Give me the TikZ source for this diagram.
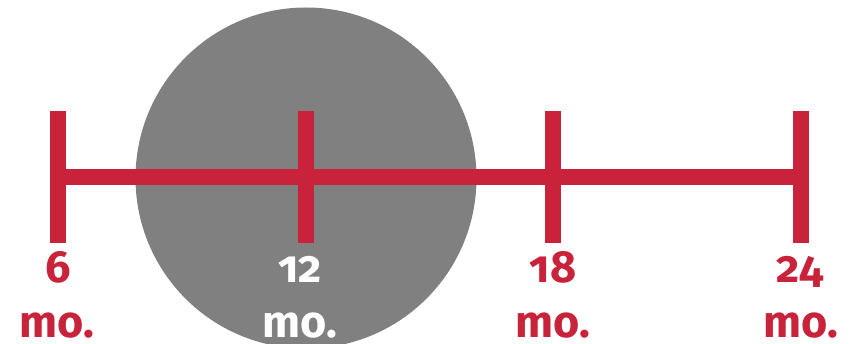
\documentclass[tikz,border=0pt]{standalone}
\usepackage{fontspec}
\setmainfont{Fira Sans}[Numbers=OldStyle]
\definecolor{tred}{HTML}{C8233A}
\definecolor{tgray}{HTML}{808080}
\begin{document}
\begin{tikzpicture}[x=1pt,y=-1pt,
  bar/.style={tred,line width=16pt},
  lbl/.style={font=\fontsize{45}{45}\selectfont\bfseries,text=tred,inner sep=0pt,anchor=base},
  lblw/.style={lbl,text=white}]
\useasboundingbox (0,0) rectangle (858,344);
\fill[tgray] (306,178) circle[radius=170.5];
\coordinate (t6) at (58,177);
\coordinate (t12) at (306,177);
\coordinate (t18) at (553,177);
\coordinate (t24) at (801,177);
\draw[bar] (t6) -- (t24);
\foreach \t in {t6,t12,t18,t24}{
  \draw[bar] ([yshift=-66pt]\t) -- ([yshift=66pt]\t);
}
\node[lbl] (n6) at (58,282) {6};
\node[lbl] (m6) at (57,337) {mo.};
\node[lblw] (n12) at (300,283) {12};
\node[lblw] (m12) at (300,337) {mo.};
\node[lbl] (n18) at (553,283) {18};
\node[lbl] (m18) at (553,337) {mo.};
\node[lbl] (n24) at (800,283) {24};
\node[lbl] (m24) at (801,337) {mo.};
\end{tikzpicture}
\end{document}
